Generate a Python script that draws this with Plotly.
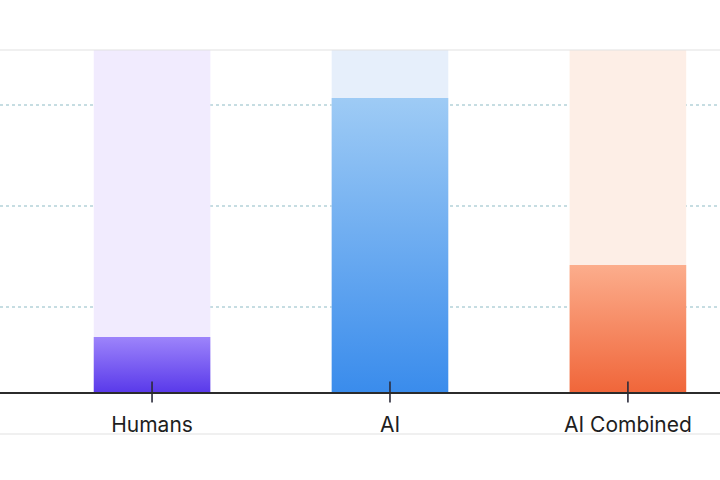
import plotly.graph_objects as go

categories = ["Humans", "AI", "AI Combined"]
values = [16.1, 86.0, 37.1]
background_max = [100, 100, 100]
grid_values = [24.9, 54.5, 83.9]

bar_bottom_colors = ["#5a3aea", "#3a8cec", "#f0663a"]
bar_top_colors = ["#9d84fb", "#9ecbf5", "#fcad8c"]
bg_colors = ["#f1ebfe", "#e6effb", "#fdeee6"]

bar_width = 0.49
x_pos = list(range(len(categories)))

fig = go.Figure()

fig.add_trace(go.Bar(
    x=x_pos, y=background_max, width=bar_width,
    marker=dict(color=bg_colors, line=dict(width=0)),
    hoverinfo="skip", showlegend=False,
))

for i, v in enumerate(values):
    xl, xr = x_pos[i] - bar_width / 2, x_pos[i] + bar_width / 2
    fig.add_trace(go.Scatter(
        x=[xl, xr, xr, xl, xl], y=[0, 0, v, v, 0],
        mode="lines", line=dict(width=0), fill="toself",
        fillgradient=dict(type="vertical",
                          colorscale=[[0, bar_bottom_colors[i]], [1, bar_top_colors[i]]]),
        hoverinfo="skip", showlegend=False,
    ))

# tick marks crossing the baseline
fig.add_trace(go.Scatter(
    x=x_pos, y=[0] * len(x_pos), mode="markers",
    marker=dict(symbol="line-ns", size=15, line=dict(width=1.6, color="#2b2b3a")),
    cliponaxis=False, hoverinfo="skip", showlegend=False,
))

fig.update_layout(
    width=720, height=480,
    margin=dict(l=0, r=0, t=50, b=88),
    paper_bgcolor="white", plot_bgcolor="white",
    font=dict(family="Inter, Roboto, sans-serif", size=21, color="#1e1e1e"),
    xaxis=dict(
        range=[-0.639, 2.387], tickvals=x_pos, ticktext=categories,
        showgrid=False, zeroline=False, showline=True, linecolor="#2b2b2b", linewidth=2,
        ticks="", ticklabelstandoff=13, fixedrange=True,
    ),
    yaxis=dict(
        range=[0, 100], tickvals=grid_values, showticklabels=False,
        showgrid=True, gridcolor="#c6dde2", gridwidth=1.5, griddash="dot",
        zeroline=False, showline=False, fixedrange=True,
    ),
    shapes=[
        dict(type="line", xref="paper", yref="paper", x0=0, x1=1, y0=1, y1=1,
             line=dict(color="#e2e2e2", width=1.2), layer="above"),
        dict(type="line", xref="paper", yref="paper", x0=0, x1=1, y0=-0.1228, y1=-0.1228,
             line=dict(color="#e2e2e2", width=1.2)),
    ],
    showlegend=False,
)

fig.write_html(
    "out.html",
    config={"displayModeBar": False},
    post_script="document.body.style.margin='0';document.body.style.padding='0';",
)
